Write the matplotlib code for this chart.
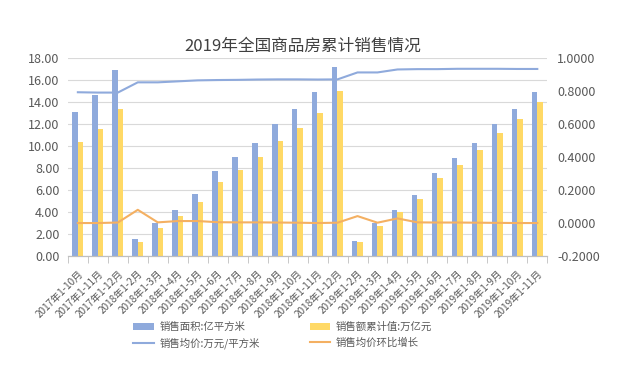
import matplotlib
matplotlib.use('Agg')
import matplotlib.pyplot as plt
import numpy as np

plt.rcParams['font.family'] = ['Noto Sans CJK SC', 'DejaVu Sans']

months = ['2017年1-10月', '2017年1-11月', '2017年1-12月',
          '2018年1-2月', '2018年1-3月', '2018年1-4月', '2018年1-5月', '2018年1-6月',
          '2018年1-7月', '2018年1-8月', '2018年1-9月', '2018年1-10月', '2018年1-11月',
          '2018年1-12月',
          '2019年1-2月', '2019年1-3月', '2019年1-4月', '2019年1-5月', '2019年1-6月',
          '2019年1-7月', '2019年1-8月', '2019年1-9月', '2019年1-10月', '2019年1-11月']
area = [13.08, 14.64, 16.94,
        1.51, 3.02, 4.21, 5.66, 7.71, 9.00, 10.29, 11.98, 13.34, 14.86, 17.17,
        1.41, 2.98, 4.22, 5.56, 7.58, 8.87, 10.26, 11.98, 13.34, 14.91]
amount = [10.32, 11.57, 13.37,
          1.25, 2.56, 3.61, 4.90, 6.69, 7.80, 8.96, 10.43, 11.62, 12.98, 15.00,
          1.31, 2.70, 4.03, 5.20, 7.07, 8.30, 9.59, 11.19, 12.49, 13.95]
avg_price = [0.792, 0.790, 0.790,
             0.852, 0.852, 0.858, 0.864, 0.866, 0.867, 0.869, 0.870, 0.870, 0.869, 0.870,
             0.912, 0.912, 0.930, 0.932, 0.932, 0.934, 0.934, 0.934, 0.933, 0.933]
mom_growth = [0.000, 0.000, 0.003,
              0.080, 0.004, 0.012, 0.012, 0.005, 0.004, 0.004, 0.003, 0.002, 0.000, 0.002,
              0.042, 0.002, 0.028, 0.004, 0.003, 0.003, 0.002, 0.001, 0.000, 0.000]

c_blue = '#8FAADC'
c_yellow = '#FFD966'
c_orange = '#F4B062'
c_text = '#595959'

fig = plt.figure(figsize=(6.17, 3.76), dpi=100)
ax = fig.add_axes([0.110, 0.319, 0.777, 0.527])
ax2 = ax.twinx()

x = np.arange(len(months))
w = 0.27
ax.bar(x - 0.14, area, w, color=c_blue, label='销售面积:亿平方米', zorder=2)
ax.bar(x + 0.13, amount, w, color=c_yellow, label='销售额累计值:万亿元', zorder=2)

ax2.plot(x, avg_price, color=c_blue, lw=1.5, label='销售均价:万元/平方米')
ax2.plot(x, mom_growth, color=c_orange, lw=1.5, label='销售均价环比增长')

ax.set_xlim(-0.5, len(months) - 0.5)
ax.set_ylim(0, 18)
ax.set_yticks(np.arange(0, 18.1, 2))
ax.set_yticklabels(['%.2f' % v for v in np.arange(0, 18.1, 2)])
ax2.set_ylim(-0.2, 1.0)
ax2.set_yticks(np.arange(-0.2, 1.01, 0.2))
ax2.set_yticklabels(['%.4f' % v for v in np.arange(-0.2, 1.01, 0.2)])

ax.grid(axis='y', color='#D9D9D9', lw=0.8, zorder=0)
ax.set_axisbelow(True)

ax.set_xticks(x)
ax.set_xticklabels(months, rotation=45, ha='right', rotation_mode='anchor',
                   fontsize=7.2, color=c_text)
ax.set_xticks(np.arange(-0.5, len(months), 1), minor=True)
ax.tick_params(axis='x', which='major', length=0, pad=9)
ax.tick_params(axis='x', which='minor', length=5, color='#BFBFBF')
ax.tick_params(axis='y', length=0, labelsize=9, labelcolor=c_text, pad=6)
ax2.tick_params(axis='y', length=0, labelsize=9, labelcolor=c_text, pad=7)

for a in (ax, ax2):
    for s in ('top', 'left', 'right'):
        a.spines[s].set_visible(False)
    a.spines['bottom'].set_color('#BFBFBF')

fig.text(0.49, 0.876, '2019年全国商品房累计销售情况', ha='center', va='center',
         fontsize=12, color='#404040')

h1, l1 = ax.get_legend_handles_labels()
h2, l2 = ax2.get_legend_handles_labels()
handles = [h1[0], h2[0], h1[1], h2[1]]
labels = [l1[0], l2[0], l1[1], l2[1]]
fig.legend(handles, labels, ncol=2, loc='center', bbox_to_anchor=(0.458, 0.108),
           frameon=False, fontsize=7.5, labelcolor=c_text, columnspacing=4.8,
           handlelength=2.0, handletextpad=0.5, labelspacing=0.55)

fig.savefig('out.png', dpi=100)
